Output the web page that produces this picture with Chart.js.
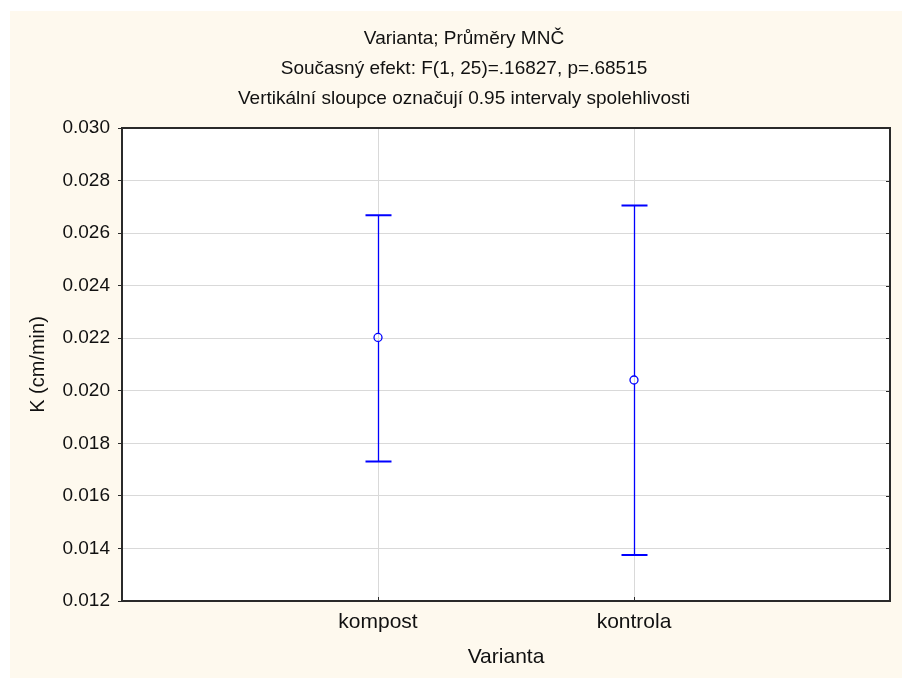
<!DOCTYPE html>
<html>
<head>
<meta charset="utf-8">
<title>Varianta; Průměry MNČ</title>
<script src="https://cdn.jsdelivr.net/npm/chart.js@4.4.1/dist/chart.umd.min.js"></script>
<style>
  html, body { margin: 0; padding: 0; background: #fff; }
  #wrap { width: 902px; height: 678px; position: relative; }
</style>
</head>
<body>
<div id="wrap"><canvas id="chart"></canvas></div>
<script>
// Data
const categories = ['kompost', 'kontrola'];
const means = [0.02203, 0.02041];
const lowerCI = [0.01731, 0.01375];
const upperCI = [0.02668, 0.02705];
const yTicks = [0.012, 0.014, 0.016, 0.018, 0.020, 0.022, 0.024, 0.026, 0.028, 0.030];
const titleLines = [
  'Varianta; Průměry MNČ',
  'Současný efekt: F(1, 25)=.16827, p=.68515',
  'Vertikální sloupce označují 0.95 intervaly spolehlivosti'
];

const FONT = 'Liberation Sans, Arial, sans-serif';
const CREAM = '#fef9ee';
const BLUE = '#0000ff';

// Cream panel, titles, frame and error bars
const statsPlugin = {
  id: 'statsPlugin',
  beforeDraw(chart) {
    const { ctx, width, height } = chart;
    ctx.save();
    ctx.fillStyle = '#fff';
    ctx.fillRect(0, 0, width, height);
    ctx.fillStyle = CREAM;
    ctx.fillRect(10, 11, width - 10, height - 11);
    const a = chart.chartArea;
    ctx.fillStyle = '#fff';
    ctx.fillRect(a.left, a.top, a.right - a.left, a.bottom - a.top);

    ctx.fillStyle = '#111';
    ctx.font = '19px ' + FONT;
    ctx.textAlign = 'center';
    ctx.textBaseline = 'middle';
    titleLines.forEach((t, i) => ctx.fillText(t, 464, 39 + i * 30));
    ctx.restore();
  },
  afterDatasetsDraw(chart) {
    const { ctx } = chart;
    const x = chart.scales.x;
    const y = chart.scales.y;
    ctx.save();
    ctx.strokeStyle = BLUE;
    categories.forEach((c, i) => {
      const px = Math.round(x.getPixelForValue(i + 1)) + 0.5;
      const top = y.getPixelForValue(upperCI[i]);
      const bot = y.getPixelForValue(lowerCI[i]);
      const mid = y.getPixelForValue(means[i]);
      ctx.lineWidth = 1.3;
      ctx.beginPath();
      ctx.moveTo(px, top);
      ctx.lineTo(px, mid - 4);
      ctx.moveTo(px, mid + 4);
      ctx.lineTo(px, bot);
      ctx.stroke();
      ctx.lineWidth = 2;
      ctx.beginPath();
      ctx.moveTo(px - 13, top);
      ctx.lineTo(px + 13, top);
      ctx.moveTo(px - 13, bot);
      ctx.lineTo(px + 13, bot);
      ctx.stroke();
    });
    ctx.restore();
  },
  afterDraw(chart) {
    const { ctx } = chart;
    const a = chart.chartArea;
    const x = chart.scales.x;
    const y = chart.scales.y;
    ctx.save();
    ctx.strokeStyle = '#2a2a2a';
    ctx.lineWidth = 1;
    // inner ticks on right and bottom
    ctx.beginPath();
    yTicks.forEach((v) => {
      const py = Math.round(y.getPixelForValue(v)) + 0.5;
      ctx.moveTo(a.right - 4, py);
      ctx.lineTo(a.right, py);
    });
    categories.forEach((c, i) => {
      const px = Math.round(x.getPixelForValue(i + 1)) + 0.5;
      ctx.moveTo(px, a.bottom - 4);
      ctx.lineTo(px, a.bottom);
    });
    ctx.stroke();
    ctx.lineWidth = 2;
    ctx.strokeRect(a.left, a.top, a.right - a.left, a.bottom - a.top);
    ctx.restore();
  }
};

new Chart(document.getElementById('chart'), {
  type: 'scatter',
  data: {
    datasets: [{
      data: categories.map((c, i) => ({ x: i + 1, y: means[i] })),
      borderColor: BLUE,
      backgroundColor: 'rgba(0,0,0,0)',
      borderWidth: 1.3,
      pointRadius: 4,
      pointStyle: 'circle'
    }]
  },
  options: {
    responsive: true,
    maintainAspectRatio: false,
    animation: false,
    layout: { padding: { left: 10, top: 128, right: 12, bottom: 0 } },
    scales: {
      x: {
        type: 'linear',
        min: 0,
        max: 3,
        afterBuildTicks: (s) => { s.ticks = categories.map((c, i) => ({ value: i + 1 })); },
        afterFit: (s) => { s.height = 77; },
        border: { display: false },
        grid: { color: '#d9d9d9', lineWidth: 1, drawTicks: false },
        ticks: {
          padding: 9,
          color: '#111',
          font: { family: FONT, size: 21 },
          callback: (v) => categories[v - 1] || ''
        },
        title: {
          display: true,
          text: 'Varianta',
          color: '#111',
          font: { family: FONT, size: 21 },
          padding: { top: 0, bottom: 8 }
        }
      },
      y: {
        min: 0.012,
        max: 0.030,
        afterBuildTicks: (s) => { s.ticks = yTicks.map((v) => ({ value: v })); },
        afterFit: (s) => { s.width = 112; },
        border: { display: false },
        grid: { color: '#d9d9d9', lineWidth: 1, tickColor: '#2a2a2a', tickLength: 4 },
        ticks: {
          padding: 8,
          color: '#111',
          font: { family: FONT, size: 19 },
          callback: (v) => v.toFixed(3)
        },
        title: {
          display: true,
          text: 'K (cm/min)',
          color: '#111',
          font: { family: FONT, size: 20 },
          padding: { top: 16, bottom: 0 }
        }
      }
    },
    plugins: {
      legend: { display: false },
      tooltip: { enabled: false }
    }
  },
  plugins: [statsPlugin]
});
</script>
</body>
</html>
